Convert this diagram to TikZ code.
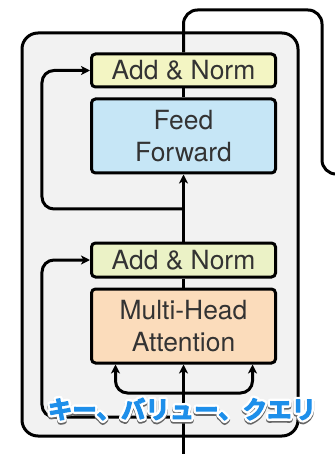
\documentclass[tikz,border=0pt]{standalone}
\usepackage{fontspec}
\setmainfont{TeX Gyre Heros}
\newfontfamily\cjk{Noto Sans CJK JP Bold}
\usetikzlibrary{arrows.meta,calc}
\definecolor{outerbg}{HTML}{F2F2F2}
\definecolor{anone}{HTML}{F3F5C3}
\definecolor{antwo}{HTML}{EBF2C6}
\definecolor{ffblue}{HTML}{C6E6F6}
\definecolor{mhaorange}{HTML}{FBDCBB}
\definecolor{txtgray}{HTML}{333333}
\definecolor{jpblue}{HTML}{1E8FEA}
\newcommand\haloline[1]{%
  \rlap{\raisebox{-1.8bp}{\special{pdf:literal direct 0.4 0.4 0.4 RG 6 w 1 J 1 j 1 Tr}#1}}%
  \rlap{\special{pdf:literal direct 1 1 1 RG 6 w 1 J 1 j 1 Tr}#1}%
  \special{pdf:literal direct 0.118 0.561 0.918 RG 1.1 w 2 Tr}\textcolor{jpblue}{#1}%
  \special{pdf:literal direct 0 Tr 0 0 0 RG 0.4 w}}
\tikzset{
  x=1bp, y=1bp,
  wire/.style={line width=3bp, black},
  arr/.style={wire, -{Stealth[length=9bp,width=9bp,inset=2.5bp]}},
  blk/.style={draw=black, line width=3bp, rounded corners=4bp, minimum width=184bp,
              align=center, text=txtgray, font=\fontsize{26.5}{32}\selectfont, inner sep=0pt},
}
\begin{document}
\begin{tikzpicture}
\useasboundingbox (0,0) rectangle (334,-454);
% outer block
\draw[line width=3bp, fill=outerbg, rounded corners=16bp] (22,-33) rectangle (298,-436);
% blocks
\node[blk, fill=anone, minimum height=33bp] (an1) at (183.5,-70.5) {Add \& Norm};
\node[blk, fill=ffblue, minimum height=74bp] (ff) at (183.5,-136) {Feed\\Forward};
\node[blk, fill=antwo, minimum height=34bp] (an2) at (183.5,-260) {Add \& Norm};
\node[blk, fill=mhaorange, minimum height=74bp] (mha) at (183.5,-326) {Multi-Head\\Attention};
% coordinates
\coordinate (in) at (183.5,-470);
\coordinate (split) at (183.5,-393);
\coordinate (res2) at (183.5,-417);
\coordinate (res1) at (183.5,-209);
\coordinate (top) at (183.5,-10);
\coordinate (topr) at (322,-10);
\coordinate (downr) at (322,-174);
\coordinate (outr) at (350,-174);
% main path
\draw[arr] (in) -- (mha.south);
\draw[arr, rounded corners=12bp] (split) -| ([xshift=-68bp]mha.south);
\draw[arr, rounded corners=12bp] (split) -| ([xshift=69bp]mha.south);
\draw[wire] (mha.north) -- (an2.south);
\draw[arr] (an2.north) -- (ff.south);
\draw[wire] (ff.north) -- (an1.south);
\draw[wire, rounded corners=14bp] (an1.north) -- (top) -- (topr) -- (downr) -- (outr);
% residuals
\draw[arr, rounded corners=12bp] (res2) -| ([xshift=-48bp]an2.west) -- (an2.west);
\draw[arr, rounded corners=12bp] (res1) -| ([xshift=-48bp]an1.west) -- (an1.west);
% label
\node[inner sep=0pt, font=\cjk\fontsize{24.5}{24.5}\selectfont] (kvq) at (182,-410)
  {\haloline{キー、バリュー、クエリ}};
\end{tikzpicture}
\end{document}
